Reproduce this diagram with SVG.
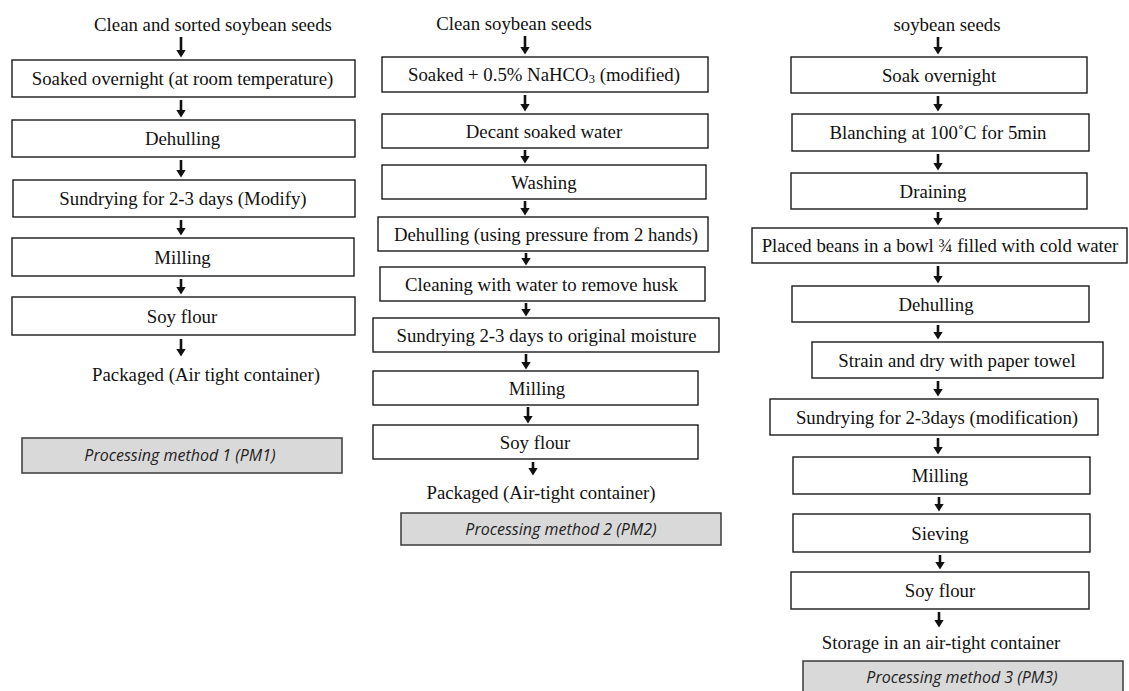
<svg xmlns="http://www.w3.org/2000/svg" width="1129" height="691" viewBox="0 0 1129 691">
<defs>
<style>
.bx{fill:#fff;stroke:#1a1a1a;stroke-width:1.4}
.gb{fill:#d9d9d9;stroke:#3a3a3a;stroke-width:1.5}
.t{font-family:"Liberation Serif","Times New Roman",serif;font-size:18.8px;fill:#111;text-anchor:middle}
.g{font-family:"Open Sans","Liberation Sans",sans-serif;font-style:italic;font-size:16px;fill:#222;text-anchor:middle}
.ar{stroke:#111;stroke-width:2.6;fill:none;marker-end:url(#ah)}
</style>
<marker id="ah" markerWidth="9" markerHeight="10" refX="0.5" refY="5" orient="auto" markerUnits="userSpaceOnUse">
<path d="M0,0 L8,5 L0,10 z" fill="#111"/>
</marker>
</defs>
<rect width="1129" height="691" fill="#fff"/>

<g id="connectors">
<!-- column 1 -->
<line class="ar" x1="181" y1="37" x2="181" y2="50"/>
<line class="ar" x1="181" y1="100" x2="181" y2="110"/>
<line class="ar" x1="181" y1="160" x2="181" y2="170"/>
<line class="ar" x1="181" y1="220" x2="181" y2="228"/>
<line class="ar" x1="181" y1="279" x2="181" y2="287"/>
<line class="ar" x1="181" y1="339" x2="181" y2="349"/>
<!-- column 2 -->
<line class="ar" x1="525" y1="36" x2="525" y2="47"/>
<line class="ar" x1="525" y1="95" x2="525" y2="104"/>
<line class="ar" x1="525" y1="150" x2="525" y2="156"/>
<line class="ar" x1="525" y1="201" x2="525" y2="208"/>
<line class="ar" x1="526" y1="253" x2="526" y2="258"/>
<line class="ar" x1="526" y1="303" x2="526" y2="309"/>
<line class="ar" x1="526" y1="354" x2="526" y2="362"/>
<line class="ar" x1="528" y1="407" x2="528" y2="416"/>
<line class="ar" x1="533" y1="462" x2="533" y2="468"/>
<!-- column 3 -->
<line class="ar" x1="938" y1="37" x2="938" y2="47"/>
<line class="ar" x1="938" y1="96" x2="938" y2="104"/>
<line class="ar" x1="938" y1="154" x2="938" y2="163"/>
<line class="ar" x1="938" y1="212" x2="938" y2="218"/>
<line class="ar" x1="938" y1="266" x2="938" y2="276"/>
<line class="ar" x1="938" y1="325" x2="938" y2="332"/>
<line class="ar" x1="938" y1="381" x2="938" y2="389"/>
<line class="ar" x1="938" y1="438" x2="938" y2="447"/>
<line class="ar" x1="939" y1="497" x2="939" y2="504"/>
<line class="ar" x1="940" y1="555" x2="940" y2="562"/>
<line class="ar" x1="939" y1="612" x2="939" y2="620"/>
</g>

<!-- Column 1 -->
<g id="pm1-start"><text class="t" x="213" y="31">Clean and sorted soybean seeds</text></g>
<g id="pm1-soak"><rect class="bx" x="12" y="60" width="343" height="37"/><text class="t" x="182.5" y="85">Soaked overnight (at room temperature)</text></g>
<g id="pm1-dehull"><rect class="bx" x="12" y="120" width="343" height="37"/><text class="t" x="182.5" y="145">Dehulling</text></g>
<g id="pm1-sundry"><rect class="bx" x="13" y="180" width="342" height="37"/><text class="t" x="183" y="205">Sundrying for 2-3 days (Modify)</text></g>
<g id="pm1-mill"><rect class="bx" x="12" y="238" width="342" height="38"/><text class="t" x="182.5" y="263.5">Milling</text></g>
<g id="pm1-flour"><rect class="bx" x="12" y="297" width="343" height="38"/><text class="t" x="182" y="322.5">Soy flour</text></g>
<g id="pm1-end"><text class="t" x="206" y="381">Packaged (Air tight container)</text></g>
<g id="pm1-label"><rect class="gb" x="22" y="438" width="320" height="35"/><text class="g" x="180" y="461">Processing method 1 (PM1)</text></g>

<!-- Column 2 -->
<g id="pm2-start"><text class="t" x="514" y="30">Clean soybean seeds</text></g>
<g id="pm2-soak"><rect class="bx" x="382" y="57" width="326" height="35"/><text class="t" x="544" y="81">Soaked + 0.5% NaHCO<tspan font-size="12.5px" dy="2">3</tspan><tspan dy="-2"> (modified)</tspan></text></g>
<g id="pm2-decant"><rect class="bx" x="382" y="114" width="326" height="34"/><text class="t" x="544" y="137.5">Decant soaked water</text></g>
<g id="pm2-wash"><rect class="bx" x="382" y="165" width="324" height="34"/><text class="t" x="544" y="188.5">Washing</text></g>
<g id="pm2-dehull"><rect class="bx" x="378" y="217" width="330" height="34"/><text class="t" x="546" y="240.5">Dehulling (using pressure from 2 hands)</text></g>
<g id="pm2-clean"><rect class="bx" x="380" y="267" width="325" height="34"/><text class="t" x="541.5" y="290.5">Cleaning with water to remove husk</text></g>
<g id="pm2-sundry"><rect class="bx" x="373" y="318" width="346" height="34"/><text class="t" x="546.5" y="341.5">Sundrying 2-3 days to original moisture</text></g>
<g id="pm2-mill"><rect class="bx" x="373" y="371" width="325" height="34"/><text class="t" x="537" y="394.5">Milling</text></g>
<g id="pm2-flour"><rect class="bx" x="373" y="425" width="325" height="34"/><text class="t" x="535" y="448.5">Soy flour</text></g>
<g id="pm2-end"><text class="t" x="541" y="499">Packaged (Air-tight container)</text></g>
<g id="pm2-label"><rect class="gb" x="401" y="513" width="320" height="32"/><text class="g" x="561" y="535">Processing method 2 (PM2)</text></g>

<!-- Column 3 -->
<g id="pm3-start"><text class="t" x="947" y="31">soybean seeds</text></g>
<g id="pm3-soak"><rect class="bx" x="791" y="57" width="296" height="36"/><text class="t" x="939" y="81.5">Soak overnight</text></g>
<g id="pm3-blanch"><rect class="bx" x="792" y="114" width="297" height="37"/><text class="t" x="938" y="139">Blanching at 100˚C for 5min</text></g>
<g id="pm3-drain"><rect class="bx" x="791" y="173" width="296" height="36"/><text class="t" x="933" y="197.5">Draining</text></g>
<g id="pm3-bowl"><rect class="bx" x="752" y="228" width="375" height="35"/><text class="t" x="940" y="252">Placed beans in a bowl ¾ filled with cold water</text></g>
<g id="pm3-dehull"><rect class="bx" x="792" y="286" width="297" height="36"/><text class="t" x="936" y="310.5">Dehulling</text></g>
<g id="pm3-strain"><rect class="bx" x="812" y="342" width="291" height="36"/><text class="t" x="957" y="366.5">Strain and dry with paper towel</text></g>
<g id="pm3-sundry"><rect class="bx" x="770" y="399" width="328" height="36"/><text class="t" x="937" y="423.5">Sundrying for 2-3days (modification)</text></g>
<g id="pm3-mill"><rect class="bx" x="793" y="457" width="297" height="37"/><text class="t" x="940" y="482">Milling</text></g>
<g id="pm3-sieve"><rect class="bx" x="793" y="514" width="297" height="38"/><text class="t" x="940" y="539.5">Sieving</text></g>
<g id="pm3-flour"><rect class="bx" x="791" y="572" width="298" height="37"/><text class="t" x="940" y="597">Soy flour</text></g>
<g id="pm3-end"><text class="t" x="941" y="649">Storage in an air-tight container</text></g>
<g id="pm3-label"><rect class="gb" x="803" y="661" width="320" height="34"/><text class="g" x="962" y="683">Processing method 3 (PM3)</text></g>
</svg>
